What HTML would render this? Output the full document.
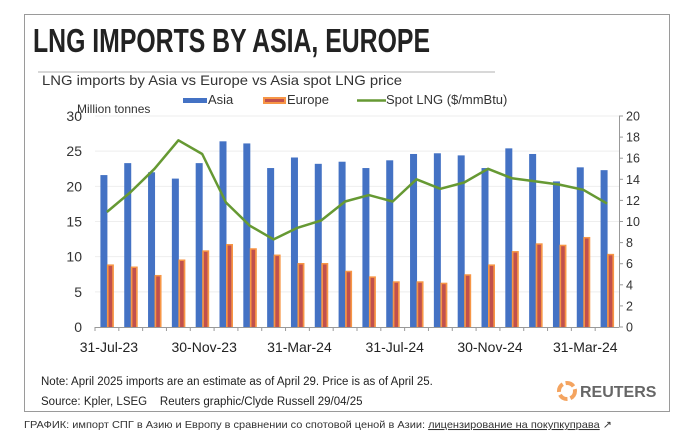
<!DOCTYPE html>
<html><head><meta charset="utf-8"><style>
html,body{margin:0;padding:0;background:#fff;width:680px;height:442px;overflow:hidden}
svg{display:block;font-family:"Liberation Sans",sans-serif}
</style></head><body>
<svg id="chart" width="680" height="442" viewBox="0 0 680 442">
<rect x="24.5" y="14.5" width="645" height="397" fill="#fff" stroke="#9a9a9a"/>
<text x="33" y="52" font-size="33" font-weight="bold" fill="#222" textLength="397" lengthAdjust="spacingAndGlyphs">LNG IMPORTS BY ASIA, EUROPE</text>
<line x1="38" y1="72" x2="495" y2="72" stroke="#ccc" stroke-width="1.5"/>
<text x="42" y="85" font-size="14" fill="#333" textLength="360" lengthAdjust="spacingAndGlyphs">LNG imports by Asia vs Europe vs Asia spot LNG price</text>
<g>
<rect x="183" y="98" width="24" height="5" fill="#4472c4"/>
<text x="208" y="104" font-size="13" fill="#333">Asia</text>
<rect x="263" y="97" width="23" height="7" fill="#f79646"/>
<rect x="265" y="99" width="19" height="3" fill="#c0504d"/>
<text x="287" y="104" font-size="13" fill="#333">Europe</text>
<line x1="357" y1="100.5" x2="386" y2="100.5" stroke="#669933" stroke-width="2.5"/>
<text x="386" y="104" font-size="13" fill="#333">Spot LNG ($/mmBtu)</text>
</g>
<text x="77" y="113" font-size="12" fill="#333">Million tonnes</text>
<g id="plot"></g>
<text x="41" y="385" font-size="11.5" fill="#222">Note: April 2025 imports are an estimate as of April 29. Price is as of April 25.</text>
<text x="41" y="405" font-size="11.5" fill="#222" xml:space="preserve">Source: Kpler, LSEG    Reuters graphic/Clyde Russell 29/04/25</text>
<g>
<circle cx="567" cy="391" r="8" fill="none" stroke="#f4a460" stroke-width="4" stroke-dasharray="9 3"/>
<text x="580" y="397" font-size="16" font-weight="bold" fill="#666">REUTERS</text>
</g>
<text x="24" y="428" font-size="10.5" fill="#333" textLength="588" lengthAdjust="spacingAndGlyphs">ГРАФИК: импорт СПГ в Азию и Европу в сравнении со спотовой ценой в Азии: <tspan text-decoration="underline">лицензирование на покупкуправа</tspan> ↗</text>
</svg>
<script>
const categories = ["Jul-23","Aug-23","Sep-23","Oct-23","Nov-23","Dec-23","Jan-24","Feb-24","Mar-24","Apr-24","May-24","Jun-24","Jul-24","Aug-24","Sep-24","Oct-24","Nov-24","Dec-24","Jan-25","Feb-25","Mar-25","Apr-25"];
const asiaValues = [21.6,23.3,22.0,21.1,23.3,26.4,26.1,22.6,24.1,23.2,23.5,22.6,23.7,24.6,24.7,24.4,22.6,25.4,24.6,20.7,22.7,22.3];
const europeValues = [8.9,8.6,7.4,9.6,10.9,11.8,11.2,10.3,9.1,9.1,8.0,7.2,6.5,6.5,6.3,7.5,8.9,10.8,11.9,11.7,12.8,10.4];
const spotValues = [10.9,12.8,15.0,17.7,16.4,11.8,9.6,8.3,9.4,10.1,11.9,12.5,11.9,14.0,13.1,13.7,15.0,14.1,13.8,13.5,13.0,11.7];
const leftTicks = [0,5,10,15,20,25,30];
const rightTicks = [0,2,4,6,8,10,12,14,16,18,20];
const xLabels = [[0,"31-Jul-23"],[4,"30-Nov-23"],[8,"31-Mar-24"],[12,"31-Jul-24"],[16,"30-Nov-24"],[20,"31-Mar-24"]];

const NS="http://www.w3.org/2000/svg";
const plot=document.getElementById('plot');
const X0=95, X1=619, Y0=327, Y1=116;
const band=(X1-X0)/categories.length;
const yL=v=>Y0-(v/30)*(Y0-Y1);
const yR=v=>Y0-(v/20)*(Y0-Y1);
const xC=i=>X0+band*(i+0.5);
function mk(tag,attrs){const e=document.createElementNS(NS,tag);for(const k in attrs)e.setAttribute(k,attrs[k]);plot.appendChild(e);return e;}

leftTicks.forEach(t=>{
  if(t>0){const g=mk('line',{x1:X0,x2:X1,y1:yL(t),y2:yL(t),stroke:'#eee'});
  
  }
  const l=mk('text',{x:82,y:yL(t)+5,'font-size':14,'text-anchor':'end',fill:'#333'});l.textContent=t;
  
  
});
rightTicks.forEach(t=>{
  const tk=mk('line',{x1:X1,x2:X1+4,y1:yR(t),y2:yR(t),stroke:'#999'});
  
  
  const l=mk('text',{x:626,y:yR(t)+4.5,'font-size':12.5,fill:'#333'});l.textContent=t;
  
  
});
categories.forEach((c,i)=>{
  const xa=xC(i)-3;
  const a=mk('rect',{x:xa-3.5,y:yL(asiaValues[i]),width:7,height:Y0-yL(asiaValues[i]),fill:'#4472c4'});
  
  
  const xe=xC(i)+3.5;
  const e=mk('rect',{x:xe-3.5,y:yL(europeValues[i]),width:7,height:Y0-yL(europeValues[i]),fill:'#f79646'});
  
  
  mk('rect',{x:xe-1.8,y:yL(europeValues[i])+1.5,width:3.6,height:Math.max(0,Y0-yL(europeValues[i])-1.5),fill:'#c0504d'});
  const tk=mk('line',{x1:X0+band*i,x2:X0+band*i,y1:Y0,y2:Y0+4,stroke:'#999'});
  
  
});
const axis=mk('line',{x1:X0,x2:X1,y1:Y0+0.5,y2:Y0+0.5,stroke:'#999'});


const raxis=mk('line',{x1:X1+0.5,x2:X1+0.5,y1:Y1,y2:Y0,stroke:'#999'});


xLabels.forEach(([i,t])=>{
  const l=mk('text',{x:xC(i)+2,y:352,'font-size':14,'text-anchor':'middle',fill:'#222'});l.textContent=t;
  
  
});
const pts=spotValues.map((v,i)=>xC(i).toFixed(1)+','+yR(v).toFixed(1)).join(' ');
const line=mk('polyline',{points:pts,fill:'none',stroke:'#669933','stroke-width':2.5,'stroke-linejoin':'round'});


</script>
</body></html>
